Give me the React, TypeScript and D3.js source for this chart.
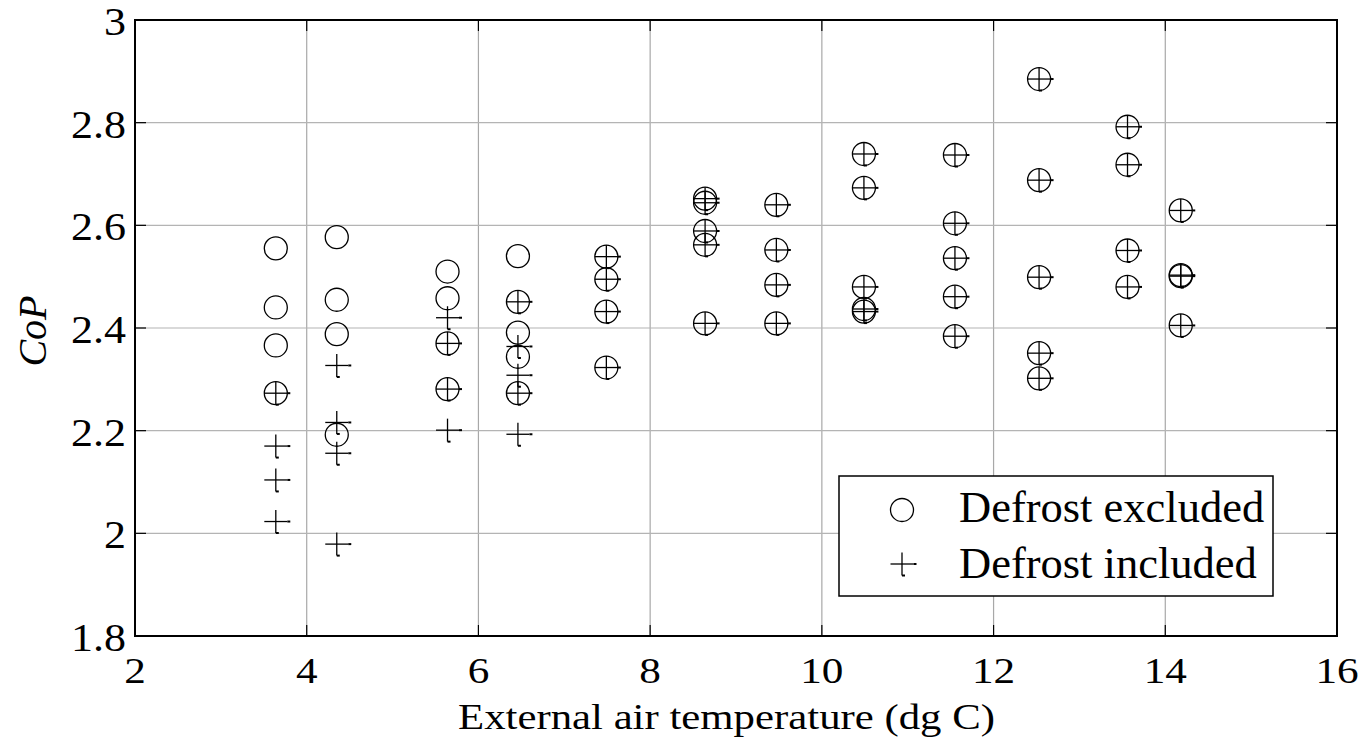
import React from "react";
import * as d3 from "d3";

// Defrost excluded (circles)
const tempExcluded = [
  3.64, 3.64, 3.64, 3.64,
  4.35, 4.35, 4.35, 4.35,
  5.64, 5.64, 5.64, 5.64,
  6.46, 6.46, 6.46, 6.46, 6.46,
  7.49, 7.49, 7.49, 7.49,
  8.64, 8.64, 8.64, 8.64, 8.64,
  9.47, 9.47, 9.47, 9.47,
  10.49, 10.49, 10.49, 10.49, 10.49,
  11.55, 11.55, 11.55, 11.55, 11.55,
  12.53, 12.53, 12.53, 12.53, 12.53,
  13.56, 13.56, 13.56, 13.56,
  14.18, 14.18, 14.18, 14.18,
];
const copExcluded = [
  2.555, 2.44, 2.366, 2.273,
  2.577, 2.455, 2.388, 2.192,
  2.51, 2.458, 2.37, 2.281,
  2.54, 2.451, 2.391, 2.344, 2.273,
  2.539, 2.495, 2.432, 2.323,
  2.652, 2.644, 2.589, 2.562, 2.409,
  2.64, 2.552, 2.484, 2.409,
  2.739, 2.673, 2.48, 2.437, 2.432,
  2.737, 2.604, 2.536, 2.461, 2.384,
  2.885, 2.688, 2.499, 2.351, 2.302,
  2.792, 2.718, 2.551, 2.48,
  2.629, 2.503, 2.501, 2.405,
];

// Defrost included (plus)
const tempIncluded = [
  3.64, 3.64, 3.64, 3.64,
  4.35, 4.35, 4.35, 4.35,
  5.64, 5.64, 5.64, 5.64,
  6.46, 6.46, 6.46, 6.46, 6.46,
  7.49, 7.49, 7.49, 7.49,
  8.64, 8.64, 8.64, 8.64, 8.64,
  9.47, 9.47, 9.47, 9.47,
  10.49, 10.49, 10.49, 10.49, 10.49,
  11.55, 11.55, 11.55, 11.55, 11.55,
  12.53, 12.53, 12.53, 12.53, 12.53,
  13.56, 13.56, 13.56, 13.56,
  14.18, 14.18, 14.18, 14.18,
];
const copIncluded = [
  2.273, 2.17, 2.104, 2.023,
  2.327, 2.216, 2.156, 1.979,
  2.42, 2.37, 2.281, 2.201,
  2.451, 2.364, 2.308, 2.273, 2.193,
  2.539, 2.495, 2.432, 2.323,
  2.652, 2.644, 2.589, 2.562, 2.409,
  2.64, 2.552, 2.484, 2.409,
  2.739, 2.673, 2.48, 2.437, 2.432,
  2.737, 2.604, 2.536, 2.461, 2.384,
  2.885, 2.688, 2.499, 2.351, 2.302,
  2.792, 2.718, 2.551, 2.48,
  2.629, 2.503, 2.501, 2.405,
];

const xTicks = [2, 4, 6, 8, 10, 12, 14, 16];
const yTicks = [1.8, 2, 2.2, 2.4, 2.6, 2.8, 3];
const yTickLabels = ["1.8", "2", "2.2", "2.4", "2.6", "2.8", "3"];
const legendLabels = ["Defrost excluded", "Defrost included"];
const xLabel = "External air temperature (dg C)";
const yLabel = "CoP";

const W = 1369;
const H = 741;
const FONT = '"Times New Roman", Times, "Liberation Serif", serif';

export default function App() {
  const x = d3.scaleLinear().domain([2, 16]).range([135, 1337]);
  const y = d3.scaleLinear().domain([1.8, 3]).range([636, 20]);
  const [x0, x1] = x.range();
  const [yb, yt] = y.range();
  const R = 11.5;
  const tick = 11;

  const Plus = ({ cx, cy }: { cx: number; cy: number }) => (
    <g>
      <line x1={cx - R} x2={cx + R} y1={cy} y2={cy} stroke="#000" strokeWidth={1.3} />
      <line x1={cx} x2={cx} y1={cy - R} y2={cy + R} stroke="#000" strokeWidth={1.3} />
      <line x1={cx + R} x2={cx + R + 3} y1={cy} y2={cy} stroke="#000" strokeWidth={2} />
      <line x1={cx} x2={cx + 3} y1={cy + R} y2={cy + R} stroke="#000" strokeWidth={2} />
    </g>
  );

  return (
    <svg
      width={W}
      height={H}
      style={{ position: "absolute", left: 0, top: 0, background: "#fff", fontFamily: FONT }}
    >
      <rect x={0} y={0} width={W} height={H} fill="#fff" />
      {/* grid */}
      {xTicks.slice(1, -1).map((t) => (
        <line key={"gx" + t} x1={x(t)} x2={x(t)} y1={yb} y2={yt} stroke="#a8a8a8" strokeWidth={1.2} />
      ))}
      {yTicks.slice(1, -1).map((t) => (
        <line key={"gy" + t} x1={x0} x2={x1} y1={y(t)} y2={y(t)} stroke="#b4b4b4" strokeWidth={1.2} />
      ))}
      {/* ticks */}
      {xTicks.map((t) => (
        <g key={"tx" + t}>
          <line x1={x(t)} x2={x(t)} y1={yb} y2={yb - tick} stroke="#000" strokeWidth={1.2} />
          <line x1={x(t)} x2={x(t)} y1={yt} y2={yt + tick} stroke="#000" strokeWidth={1.2} />
        </g>
      ))}
      {yTicks.map((t) => (
        <g key={"ty" + t}>
          <line x1={x0} x2={x0 + tick} y1={y(t)} y2={y(t)} stroke="#000" strokeWidth={1.2} />
          <line x1={x1} x2={x1 - tick} y1={y(t)} y2={y(t)} stroke="#000" strokeWidth={1.2} />
        </g>
      ))}
      {/* markers */}
      {tempExcluded.map((t, i) => (
        <circle key={"c" + i} cx={x(t)} cy={y(copExcluded[i])} r={R} fill="none" stroke="#000" strokeWidth={1.3} />
      ))}
      {tempIncluded.map((t, i) => (
        <Plus key={"p" + i} cx={x(t)} cy={y(copIncluded[i])} />
      ))}
      {/* axes box */}
      <rect x={x0} y={yt} width={x1 - x0} height={yb - yt} fill="none" stroke="#000" strokeWidth={2} />
      {/* tick labels */}
      {xTicks.map((t) => (
        <g key={"lx" + t} transform={`translate(${x(t)},683) scale(1.2,1)`}>
          <text textAnchor="middle" fontSize={36} fill="#000">{t}</text>
        </g>
      ))}
      {yTicks.map((t, i) => (
        <g key={"ly" + t} transform={`translate(126,${y(t) + 15}) scale(1.1,1)`}>
          <text textAnchor="end" fontSize={40} fill="#000">{yTickLabels[i]}</text>
        </g>
      ))}
      {/* axis labels */}
      <text x={458} y={729} fontSize={36} textLength={537} lengthAdjust="spacingAndGlyphs" fill="#000">
        {xLabel}
      </text>
      <text
        transform={`translate(46,331) rotate(-90)`}
        textAnchor="middle"
        fontSize={40}
        fontStyle="italic"
        fill="#000"
      >
        {yLabel}
      </text>
      {/* legend */}
      <rect x={839} y={476} width={434} height={120} fill="#fff" stroke="#000" strokeWidth={1.5} />
      <circle cx={902} cy={510} r={R} fill="none" stroke="#000" strokeWidth={1.3} />
      <Plus cx={902} cy={564} />
      <text x={959} y={522} fontSize={44.5} fill="#000">{legendLabels[0]}</text>
      <text x={959} y={578} fontSize={44.5} fill="#000">{legendLabels[1]}</text>
    </svg>
  );
}
